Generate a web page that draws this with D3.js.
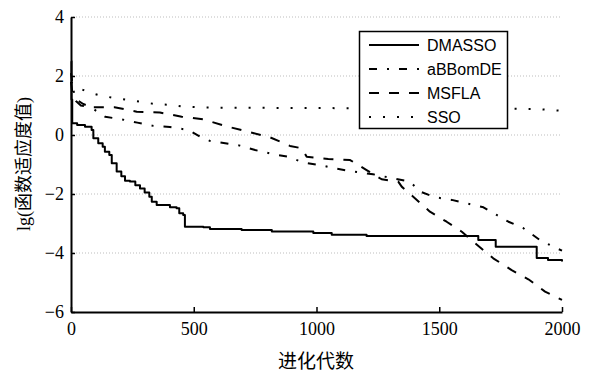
<!DOCTYPE html>
<html lang="zh">
<head>
    <meta charset="utf-8"/>
    <title>lg fitness vs generations</title>
    <script src="https://d3js.org/d3.v7.min.js"></script>
    <style>
        body { margin: 0; background: #fff; }
        .tick text { font-family: "Liberation Serif", "Times New Roman", serif; font-size: 18px; fill: #000; }
    </style>
</head>
<body>
<script>

    // series (x = generation, y = lg fitness)
    var dmassoX = [0, 2, 5, 25, 57, 84, 91, 111, 129, 138, 156, 166, 186, 205, 220, 240, 262, 281, 300, 319, 329, 349, 403, 430, 441, 457, 464, 539, 566, 695, 818, 987, 1062, 1204, 1659, 1730, 1897, 1943, 2000];
    var dmassoY = [2.5, 1.2, 0.4, 0.34, 0.28, 0.17, -0.11, -0.28, -0.40, -0.57, -0.68, -0.96, -1.24, -1.4, -1.55, -1.58, -1.7, -1.81, -1.95, -2.09, -2.26, -2.37, -2.45, -2.48, -2.65, -2.71, -3.11, -3.13, -3.19, -3.22, -3.27, -3.32, -3.38, -3.42, -3.56, -3.79, -4.17, -4.24, -4.29];

    var abbX = [0, 10, 23, 50, 77, 139, 206, 270, 335, 403, 478, 525, 566, 688, 750, 818, 885, 946, 1015, 1075, 1150, 1230, 1300, 1381, 1422, 1483, 1551, 1612, 1680, 1734, 1782, 1843, 1910, 1965, 2000];
    var abbY = [2.1, 1.5, 1.19, 1.05, 0.96, 0.62, 0.53, 0.42, 0.31, 0.27, 0.17, -0.05, -0.2, -0.36, -0.51, -0.64, -0.74, -0.93, -1.02, -1.13, -1.24, -1.33, -1.45, -1.58, -1.92, -2.11, -2.2, -2.32, -2.45, -2.71, -2.94, -3.16, -3.56, -3.79, -3.92];

    var msflaX = [0, 8, 20, 40, 77, 115, 177, 268, 362, 451, 538, 640, 722, 811, 892, 940, 960, 1048, 1137, 1204, 1265, 1333, 1347, 1394, 1462, 1530, 1592, 1646, 1720, 1795, 1863, 1931, 2000];
    var msflaY = [1.8, 1.3, 1.15, 1.0, 0.94, 0.94, 0.94, 0.79, 0.76, 0.62, 0.53, 0.28, 0.11, -0.08, -0.37, -0.45, -0.74, -0.81, -0.85, -1.19, -1.5, -1.58, -1.75, -2.09, -2.6, -2.94, -3.28, -3.67, -4.18, -4.58, -4.89, -5.31, -5.59];

    var ssoX = [0, 23, 77, 125, 179, 233, 281, 342, 403, 457, 550, 800, 1100, 1400, 1700, 1900, 1960, 2000];
    var ssoY = [1.8, 1.62, 1.43, 1.33, 1.25, 1.19, 1.13, 1.05, 1.02, 0.96, 0.93, 0.92, 0.91, 0.91, 0.9, 0.88, 0.84, 0.82];

    var seriesNames = ["DMASSO", "aBBomDE", "MSFLA", "SSO"];
    var xTicks = [0, 500, 1000, 1500, 2000];
    var yTicks = [-6, -4, -2, 0, 2, 4];
    var gridTicks = [-4, -2, 0, 2, 4];

    var width = 598;
    var height = 373;
    var plotLeft = 71, plotRight = 562, plotTop = 17, plotBottom = 312;

    var svg = d3.select("body")
                .append("svg")
                .attr("width", width)
                .attr("height", height);

    svg.append("rect").attr("width", width).attr("height", height).attr("fill", "#fff");

    var x = d3.scaleLinear().domain([0, 2000]).range([plotLeft, plotRight]);
    var y = d3.scaleLinear().domain([-6, 4]).range([plotBottom, plotTop]);

    // dotted grid
    svg.append("g")
       .selectAll("line")
       .data(gridTicks)
       .enter()
       .append("line")
       .attr("x1", plotLeft + 2).attr("x2", plotRight)
       .attr("y1", function(d){ return y(d); })
       .attr("y2", function(d){ return y(d); })
       .attr("stroke", "#bdbdbd")
       .attr("stroke-width", 1)
       .attr("stroke-dasharray", "1,2");

    function zipXY(xs, ys) {
        return xs.map(function(v, i){ return [v, ys[i]]; });
    }

    var styles = {
        "DMASSO":  {dash: null,        curve: d3.curveStepAfter, data: zipXY(dmassoX, dmassoY)},
        "aBBomDE": {dash: "8,10,2,10", curve: d3.curveLinear,    data: zipXY(abbX, abbY)},
        "MSFLA":   {dash: "10,10",     curve: d3.curveLinear,    data: zipXY(msflaX, msflaY)},
        "SSO":     {dash: "2,12",      curve: d3.curveLinear,    data: zipXY(ssoX, ssoY)}
    };

    var plot = svg.append("g");
    seriesNames.slice().reverse().forEach(function(name){
        var s = styles[name];
        var line = d3.line()
                     .x(function(d){ return x(d[0]); })
                     .y(function(d){ return y(d[1]); })
                     .curve(s.curve);
        plot.append("path")
            .datum(s.data)
            .attr("d", line)
            .attr("fill", "none")
            .attr("stroke", "#000")
            .attr("stroke-width", 2)
            .attr("stroke-linejoin", "round")
            .attr("stroke-dasharray", s.dash);
    });

    // axes
    svg.append("g")
       .attr("transform", "translate(0," + plotBottom + ")")
       .call(d3.axisBottom(x).tickValues(xTicks).tickSizeInner(-5).tickSizeOuter(0).tickPadding(10).tickFormat(d3.format("d")));

    svg.append("g")
       .attr("transform", "translate(" + plotLeft + ",0)")
       .call(d3.axisLeft(y).tickValues(yTicks).tickSizeInner(-4).tickSizeOuter(0).tickPadding(7));

    svg.selectAll(".domain").attr("stroke", "#000").attr("stroke-width", 2);
    svg.selectAll(".tick line").attr("stroke", "#000").attr("stroke-width", 1.5);

    // legend
    var lg = svg.append("g");
    lg.append("rect")
      .attr("x", 359.5).attr("y", 31.5)
      .attr("width", 148).attr("height", 97)
      .attr("fill", "#fff")
      .attr("stroke", "#000")
      .attr("stroke-width", 1.5);

    var rowY = d3.scalePoint().domain(seriesNames).range([45, 117]);

    seriesNames.forEach(function(name){
        var s = styles[name];
        lg.append("line")
          .attr("x1", 369).attr("x2", 419)
          .attr("y1", rowY(name)).attr("y2", rowY(name))
          .attr("stroke", "#000")
          .attr("stroke-width", 2)
          .attr("stroke-dasharray", s.dash);
        lg.append("text")
          .attr("x", 427)
          .attr("y", rowY(name))
          .attr("dy", "0.36em")
          .attr("font-family", "'Liberation Sans', Arial, sans-serif")
          .attr("font-size", "16px")
          .text(name);
    });

    // axis titles
    svg.append("text")
       .attr("x", 316).attr("y", 368)
       .attr("text-anchor", "middle")
       .attr("font-family", "'Liberation Serif', 'Noto Sans CJK SC', serif")
       .attr("font-size", "19px")
       .text("进化代数");

    svg.append("text")
       .attr("transform", "translate(30,164) rotate(-90)")
       .attr("text-anchor", "middle")
       .attr("font-family", "'Liberation Serif', 'Noto Sans CJK SC', serif")
       .attr("font-size", "18px")
       .text("lg(函数适应度值)");

</script>
</body>
</html>
